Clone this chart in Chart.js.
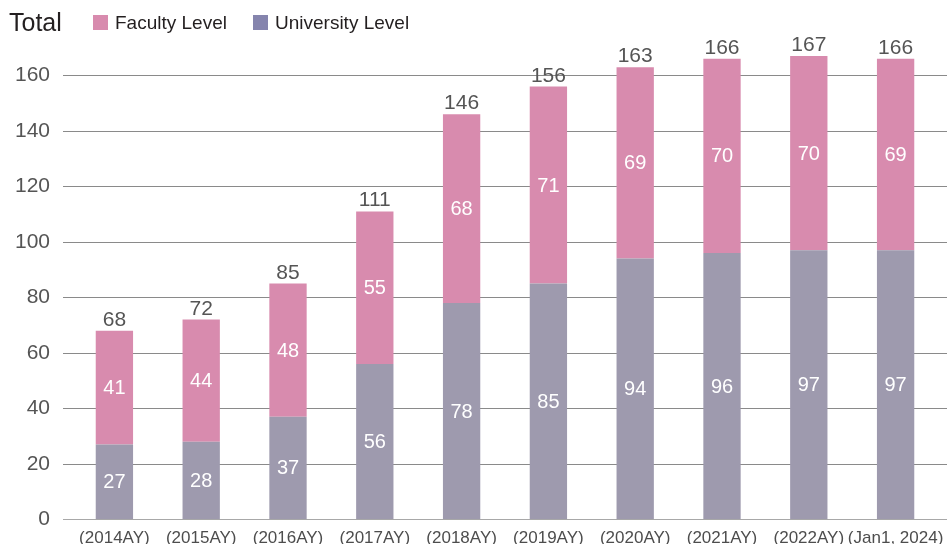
<!DOCTYPE html>
<html>
<head>
<meta charset="utf-8">
<script src="https://cdn.jsdelivr.net/npm/chart.js@4"></script>
<style>
html,body{margin:0;padding:0;background:#fff;}
#wrap{position:relative;width:947px;height:544px;}
</style>
</head>
<body>
<div id="wrap"><canvas id="c" width="947" height="544"></canvas></div>
<script>
const categories = ['(2014AY)','(2015AY)','(2016AY)','(2017AY)','(2018AY)','(2019AY)','(2020AY)','(2021AY)','(2022AY)','(Jan1, 2024)'];
const universityLevel = [27, 28, 37, 56, 78, 85, 94, 96, 97, 97];
const facultyLevel = [41, 44, 48, 55, 68, 71, 69, 70, 70, 69];
const totals = [68, 72, 85, 111, 146, 156, 163, 166, 167, 166];
const yTicks = [0, 20, 40, 60, 80, 100, 120, 140, 160];
const axisTitle = 'Total';
const seriesNames = ['Faculty Level', 'University Level'];

const FONT = '"Liberation Sans", Arial, Helvetica, sans-serif';
const PINK = '#d88bae';
const GREY = '#9e9aae';
const LEGEND_BLUE = '#8584ad';

const gridPlugin = {
  id: 'customGrid',
  beforeDatasetsDraw(chart) {
    const ctx = chart.ctx;
    const y = chart.scales.y;
    ctx.save();
    yTicks.forEach(v => {
      const py = Math.round(y.getPixelForValue(v)) + 0.5;
      ctx.strokeStyle = v === 0 ? '#a8a8a8' : '#8a8a8a';
      ctx.lineWidth = 1;
      ctx.beginPath();
      ctx.moveTo(63, py);
      ctx.lineTo(947, py);
      ctx.stroke();
    });
    ctx.restore();
  }
};

const labelPlugin = {
  id: 'barLabels',
  afterDatasetsDraw(chart) {
    const ctx = chart.ctx;
    ctx.save();
    ctx.textAlign = 'center';
    ctx.textBaseline = 'middle';
    chart.data.datasets.forEach((ds, di) => {
      const meta = chart.getDatasetMeta(di);
      meta.data.forEach((bar, i) => {
        const top = bar.y, bottom = bar.base;
        ctx.fillStyle = '#ffffff';
        ctx.font = '20px ' + FONT;
        ctx.fillText(String(ds.data[i]), bar.x, (top + bottom) / 2 + 1);
      });
    });
    const topMeta = chart.getDatasetMeta(1);
    topMeta.data.forEach((bar, i) => {
      ctx.fillStyle = '#555555';
      ctx.font = '21px ' + FONT;
      ctx.textBaseline = 'alphabetic';
      ctx.fillText(String(totals[i]), bar.x, bar.y - 5);
    });
    ctx.restore();
  }
};

const headerPlugin = {
  id: 'header',
  afterDraw(chart) {
    const ctx = chart.ctx;
    ctx.save();
    ctx.textBaseline = 'alphabetic';
    ctx.textAlign = 'left';
    ctx.fillStyle = '#231f20';
    ctx.font = '25px ' + FONT;
    ctx.fillText(axisTitle, 9, 31);
    const items = [
      {name: seriesNames[0], color: PINK, x: 93, tx: 115},
      {name: seriesNames[1], color: LEGEND_BLUE, x: 253, tx: 275}
    ];
    ctx.font = '19px ' + FONT;
    items.forEach(it => {
      ctx.fillStyle = it.color;
      ctx.fillRect(it.x, 15, 15, 15);
      ctx.fillStyle = '#231f20';
      ctx.fillText(it.name, it.tx, 29);
    });
    ctx.restore();
  }
};

new Chart(document.getElementById('c'), {
  type: 'bar',
  data: {
    labels: categories,
    datasets: [
      {label: seriesNames[1], data: universityLevel, backgroundColor: GREY, stack: 's', barPercentage: 0.43, categoryPercentage: 1.0},
      {label: seriesNames[0], data: facultyLevel, backgroundColor: PINK, stack: 's', barPercentage: 0.43, categoryPercentage: 1.0}
    ]
  },
  options: {
    responsive: false,
    animation: false,
    devicePixelRatio: 1,
    layout: {padding: {top: 20, right: 8, left: 0, bottom: 0}},
    plugins: {legend: {display: false}, tooltip: {enabled: false}, title: {display: false}},
    scales: {
      x: {
        stacked: true,
        grid: {display: false, drawTicks: false},
        border: {display: false},
        ticks: {color: '#4d4d4d', font: {family: FONT, size: 17}, padding: 9, maxRotation: 0, autoSkip: false},
        afterFit(s) {
          s.height = 24.7;
          s.paddingLeft = 0; s.paddingRight = 0; s.paddingTop = 0; s.paddingBottom = 0;
        }
      },
      y: {
        stacked: true,
        min: 0,
        max: 180,
        grid: {display: false, drawTicks: false},
        border: {display: false},
        ticks: {
          stepSize: 20,
          color: '#555555',
          font: {family: FONT, size: 21},
          padding: 21,
          callback: v => (yTicks.includes(v) ? String(v) : '')
        },
        afterFit(s) {
          s.width = 71;
          s.paddingTop = 0; s.paddingBottom = 0; s.paddingLeft = 0; s.paddingRight = 0;
        }
      }
    }
  },
  plugins: [gridPlugin, labelPlugin, headerPlugin]
});
</script>
</body>
</html>
